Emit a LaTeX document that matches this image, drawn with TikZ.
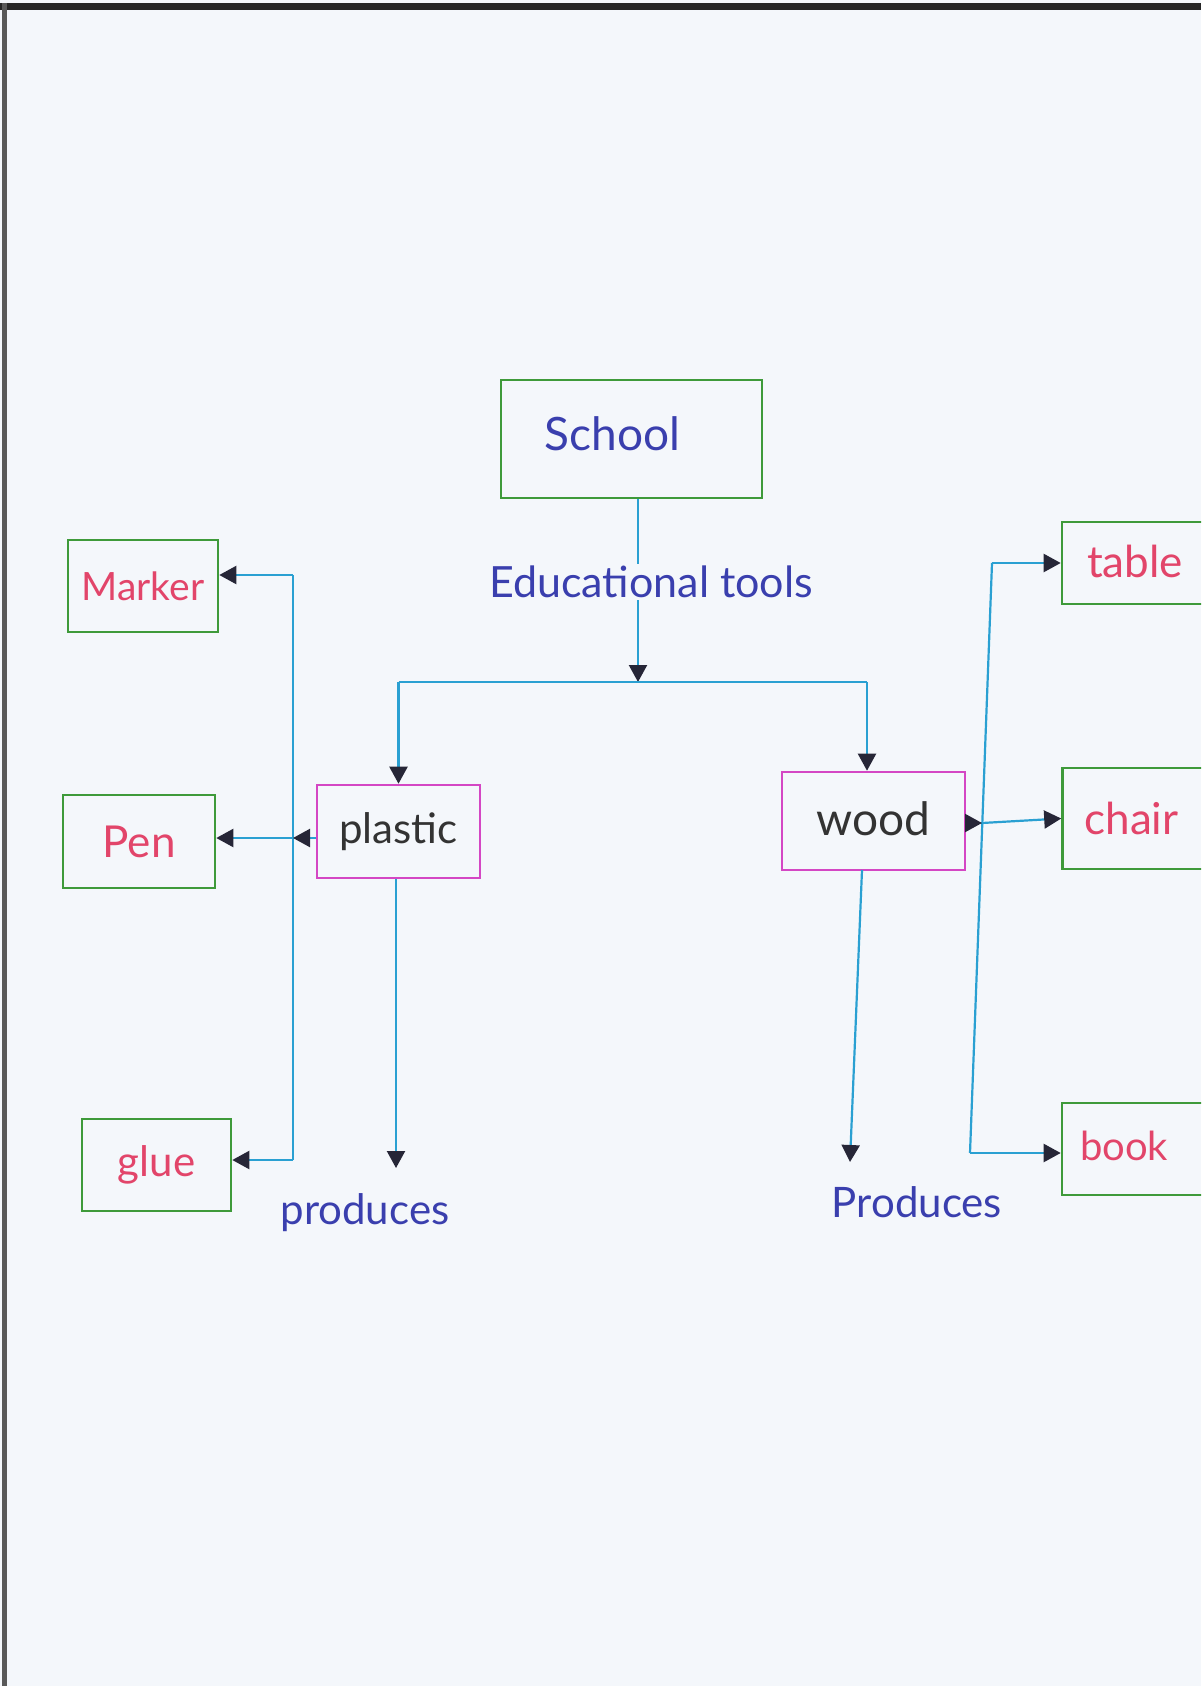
\documentclass[tikz,border=0pt]{standalone}
\usepackage{fontspec}
\setmainfont{Lato}
\usetikzlibrary{arrows.meta}
\definecolor{paper}{HTML}{F4F7FB}
\definecolor{boxgreen}{HTML}{3E9A3A}
\definecolor{boxmag}{HTML}{D447C4}
\definecolor{linec}{HTML}{2AA0D2}
\definecolor{arrowc}{HTML}{262637}
\definecolor{txtblue}{HTML}{3A3FAE}
\definecolor{txtred}{HTML}{E2456A}
\definecolor{txtblack}{HTML}{333333}
\tikzset{
  gbox/.style={draw=boxgreen, line width=1.3pt, inner sep=0pt},
  mbox/.style={draw=boxmag, line width=1.3pt, inner sep=0pt},
  conn/.style={draw=linec, line width=1.1pt},
  tipped/.style={conn, -{Triangle[length=8.5pt,width=9pt,color=arrowc,fill=arrowc]}},
  bluetext/.style={text=txtblue, inner sep=1pt},
  redtext/.style={text=txtred},
  fsz/.style={font=\fontsize{#1}{#1}\selectfont}
}
\begin{document}
\begin{tikzpicture}[x=0.5pt,y=-0.5pt]
\useasboundingbox (0,0) rectangle (1201,1686);
\clip (0,0) rectangle (1201,1686);
\fill[paper] (0,0) rectangle (1201,1686);
\fill[black!85] (0,3) rectangle (1201,10);
\fill[black!65] (2,3) rectangle (7,1686);

% main nodes
\node[gbox, minimum width=130.5pt, minimum height=59pt, text=txtblue, fsz=23pt] (school) at (631.5,439) {\raisebox{5pt}{School}\hspace*{19pt}};
\node[bluetext, fill=paper, fsz=21.5pt] (edu) at (651,582) {Educational tools};
\node[mbox, minimum width=81.5pt, minimum height=46.5pt, text=txtblack, fsz=21pt] (plastic) at (398.5,831.5) {\raisebox{3pt}{plastic}};
\node[mbox, minimum width=91.5pt, minimum height=49pt, text=txtblack, fsz=23pt] (wood) at (873.5,821) {\raisebox{2pt}{wood}};

\node[gbox, minimum width=75pt, minimum height=46pt, redtext, fsz=19.5pt] (marker) at (143,586) {Marker};
\node[gbox, minimum width=76pt, minimum height=46.5pt, redtext, fsz=22pt] (pen) at (139,841.5) {Pen};
\node[gbox, minimum width=74.5pt, minimum height=46pt, redtext, fsz=21pt] (glue) at (156.5,1165) {glue};

\node[gbox, minimum height=41pt, inner xsep=12.5pt, text width=60pt, align=left, redtext, fsz=22pt] (table) at (1147,563) {\raisebox{2pt}{table}};
\node[gbox, minimum height=50.5pt, inner xsep=11pt, text width=63pt, align=left, redtext, fsz=22pt] (chair) at (1147.5,818.5) {chair};
\node[gbox, minimum height=46pt, inner xsep=9pt, text width=66pt, align=left, redtext, fsz=20pt] (book) at (1146,1149) {\raisebox{3pt}{book}};

\node[bluetext, fsz=21pt] (prod1) at (365,1213) {produces};
\node[bluetext, fsz=21pt] (prod2) at (917,1202) {Produces};

% coordinates
\coordinate (j0) at (638,682);
\coordinate (bl) at (398.5,682);
\coordinate (br) at (867,682);
\coordinate (lt1) at (293,575);
\coordinate (lt0) at (293,838);
\coordinate (lt2) at (293,1160);
\coordinate (rt1) at (992,563);
\coordinate (rtm) at (982,823);
\coordinate (rt2) at (970,1153);
\coordinate (pend) at (396,1168);
\coordinate (wtop) at (862,870);
\coordinate (wend) at (850,1162);

% connectors
\draw[conn] (school.south -| j0) -- (edu.north -| j0);
\draw[tipped] (edu.south -| j0) -- (j0);
\draw[conn] (bl) -- (br);
\draw[tipped] (bl) -- (plastic.north);
\draw[tipped] (br) -- (wood.north -| br);

\draw[conn] (lt1) -- (lt2);
\draw[tipped] (lt1) -- (marker.east |- lt1);
\draw[tipped] (plastic.west |- lt0) -- (lt0);
\draw[tipped] (lt0) -- (pen.east |- lt0);
\draw[tipped] (lt2) -- (glue.east |- lt2);

\draw[conn] (rt1) -- (rt2);
\draw[tipped] (rt1) -- (table.west);
\draw[tipped] (wood.east |- rtm) -- (rtm);
\draw[tipped] (rtm) -- (chair.west);
\draw[tipped] (rt2) -- (book.west |- rt2);

\draw[tipped] (plastic.south -| pend) -- (pend);
\draw[tipped] (wtop) -- (wend);
\end{tikzpicture}
\end{document}
